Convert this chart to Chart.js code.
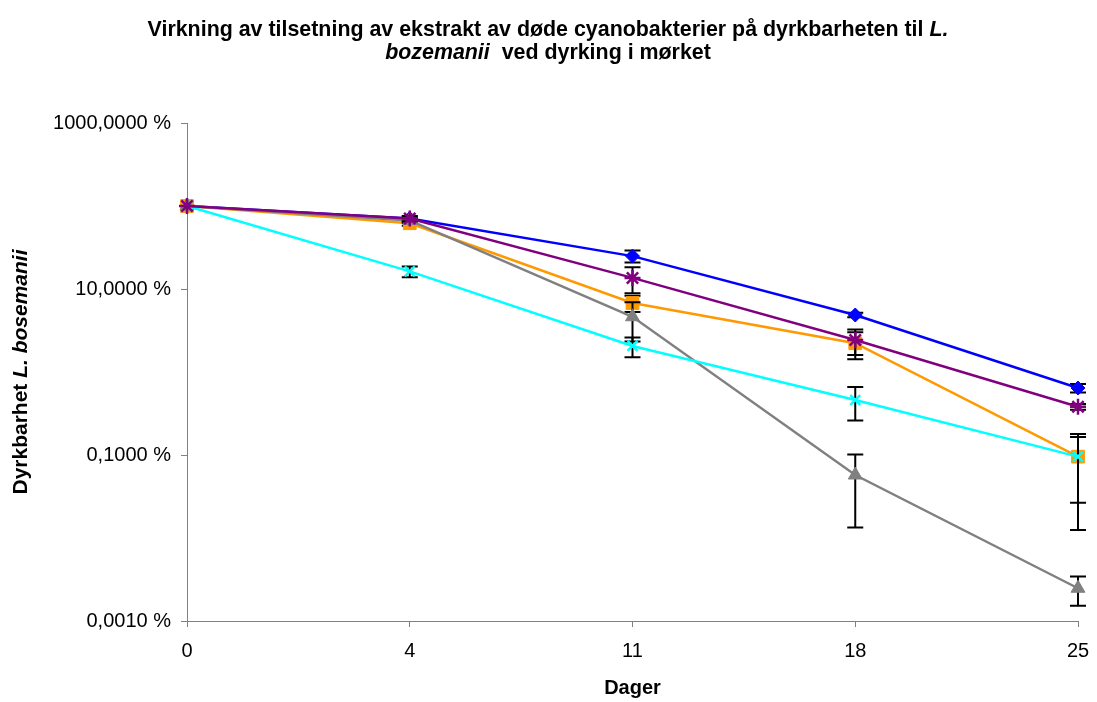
<!DOCTYPE html>
<html>
<head>
<meta charset="utf-8">
<script src="https://cdn.jsdelivr.net/npm/chart.js@4.4.1/dist/chart.umd.min.js"></script>
<style>
  body { margin: 0; background: #fff; overflow: hidden; }
  #wrap { width: 1097px; height: 702px; position: relative; }
  canvas { display: block; }
</style>
</head>
<body>
<div id="wrap"><canvas id="survivalChart"></canvas></div>
<script>
// days of cultivation (category axis)
const days = ['0', '4', '11', '18', '25'];
// y ticks in percent
const yTicks = [0.001, 0.1, 10, 1000];

// culturability in %
const blueValues   = [100, 70.6, 24.9, 4.86, 0.641];
const orangeValues = [100, 62.0, 6.78, 2.22, 0.0955];
const grayValues   = [100, 67.0, 4.63, 0.0574, 0.00248];
const cyanValues   = [100, 16.3, 2.06, 0.46, 0.0955];
const purpleValues = [100, 70.6, 13.6, 2.43, 0.382];

// +/- error (same units)
const blueErrors   = [0, 4, 4.1, 0.3, 0.076];
const orangeErrors = [0, 4, 1.5, 0.8, 0.083];
const grayErrors   = [0, 4, 2.3, 0.044, 0.00095];
const cyanErrors   = [0, 2.4, 0.55, 0.2, 0.069];
const purpleErrors = [0, 5, 4.7, 0.83, 0.03];

const FONT = "'Liberation Sans', Arial, sans-serif";
Chart.defaults.font.family = FONT;
Chart.defaults.color = '#000';

// error bars, drawn just before each series so markers sit on top
const errorBarPlugin = {
  id: 'errorBars',
  beforeDatasetDraw(chart, args) {
    const ds = chart.data.datasets[args.index];
    if (!ds.errors) return;
    const y = chart.scales.y;
    const ctx = chart.ctx;
    ctx.save();
    ctx.strokeStyle = '#000';
    ctx.lineWidth = 2;
    args.meta.data.forEach((pt, i) => {
      const err = ds.errors[i];
      if (!err) return;
      const v = ds.data[i];
      const top = y.getPixelForValue(v + err);
      const bottom = y.getPixelForValue(Math.max(v - err, y.min));
      ctx.beginPath();
      ctx.moveTo(pt.x, top);
      ctx.lineTo(pt.x, bottom);
      ctx.moveTo(pt.x - 8, top);
      ctx.lineTo(pt.x + 8, top);
      ctx.moveTo(pt.x - 8, bottom);
      ctx.lineTo(pt.x + 8, bottom);
      ctx.stroke();
    });
    ctx.restore();
  }
};

// title and y title have italic parts, so draw them by hand
function drawMixed(ctx, parts, cx, cy, size) {
  let total = 0;
  parts.forEach(p => {
    ctx.font = (p.italic ? 'italic ' : '') + 'bold ' + size + 'px ' + FONT;
    p.w = ctx.measureText(p.text).width;
    total += p.w;
  });
  let x = cx - total / 2;
  parts.forEach(p => {
    ctx.font = (p.italic ? 'italic ' : '') + 'bold ' + size + 'px ' + FONT;
    ctx.fillText(p.text, x, cy);
    x += p.w;
  });
}

const textPlugin = {
  id: 'texts',
  afterDraw(chart) {
    const ctx = chart.ctx;
    ctx.save();
    ctx.fillStyle = '#000';
    ctx.textAlign = 'left';
    ctx.textBaseline = 'middle';
    drawMixed(ctx, [
      { text: 'Virkning av tilsetning av ekstrakt av døde cyanobakterier på dyrkbarheten til ', italic: false },
      { text: 'L.', italic: true }
    ], 548, 30, 21.4);
    drawMixed(ctx, [
      { text: 'bozemanii', italic: true },
      { text: '  ved dyrking i mørket', italic: false }
    ], 548, 53, 21.4);

    const area = chart.chartArea;
    ctx.translate(21, (area.top + area.bottom) / 2);
    ctx.rotate(-Math.PI / 2);
    drawMixed(ctx, [
      { text: 'Dyrkbarhet ', italic: false },
      { text: 'L. bosemanii', italic: true }
    ], 0, 0, 21);
    ctx.restore();
  }
};

function series(label, data, errors, color, style, radius, order) {
  const filled = style !== 'crossRot' && style !== 'star';
  return {
    label: label,
    data: data,
    errors: errors,
    borderColor: color,
    backgroundColor: color,
    borderWidth: 2.5,
    pointStyle: style,
    pointRadius: radius,
    pointHoverRadius: radius,
    pointBackgroundColor: color,
    pointBorderColor: color,
    pointBorderWidth: filled ? 1 : 2.5,
    tension: 0,
    fill: false,
    order: order
  };
}

const ctx = document.getElementById('survivalChart').getContext('2d');
new Chart(ctx, {
  type: 'line',
  data: {
    labels: days,
    datasets: [
      series('Serie 1', blueValues, blueErrors, '#0000FF', 'rectRot', 7, 5),
      series('Serie 2', orangeValues, orangeErrors, '#FF9900', 'rect', 9, 4),
      series('Serie 3', grayValues, grayErrors, '#808080', 'triangle', 8, 3),
      series('Serie 4', cyanValues, cyanErrors, '#00FFFF', 'crossRot', 7, 2),
      series('Serie 5', purpleValues, purpleErrors, '#800080', 'star', 8, 1)
    ]
  },
  options: {
    responsive: true,
    maintainAspectRatio: false,
    animation: false,
    layout: { padding: { top: 123, right: 19, bottom: 0, left: 0 } },
    plugins: {
      legend: { display: false },
      title: { display: false },
      tooltip: { enabled: false }
    },
    scales: {
      x: {
        type: 'category',
        offset: false,
        afterFit: (scale) => {
          scale.height = 81;
          scale.paddingLeft = 0;
          scale.paddingRight = 0;
        },
        grid: { display: true, drawOnChartArea: false, drawTicks: true, tickLength: 6, color: '#808080', offset: false },
        border: { display: true, color: '#808080', width: 1 },
        ticks: { font: { size: 20 }, color: '#000', padding: 12, maxRotation: 0 },
        title: { display: true, text: 'Dager', font: { size: 20, weight: 'bold' }, color: '#000', padding: { top: 0, bottom: 2 } }
      },
      y: {
        type: 'logarithmic',
        min: 0.001,
        max: 1000,
        afterFit: (scale) => {
          scale.width = 187;
          scale.paddingTop = 0;
          scale.paddingBottom = 0;
        },
        afterBuildTicks: (scale) => { scale.ticks = yTicks.map(v => ({ value: v })); },
        grid: { display: true, drawOnChartArea: false, drawTicks: true, tickLength: 6, color: '#808080' },
        border: { display: true, color: '#808080', width: 1 },
        ticks: {
          font: { size: 20 },
          color: '#000',
          padding: 10,
          autoSkip: false,
          callback: (v) => Number(v).toFixed(4).replace('.', ',') + ' %'
        }
      }
    }
  },
  plugins: [errorBarPlugin, textPlugin]
});
</script>
</body>
</html>
